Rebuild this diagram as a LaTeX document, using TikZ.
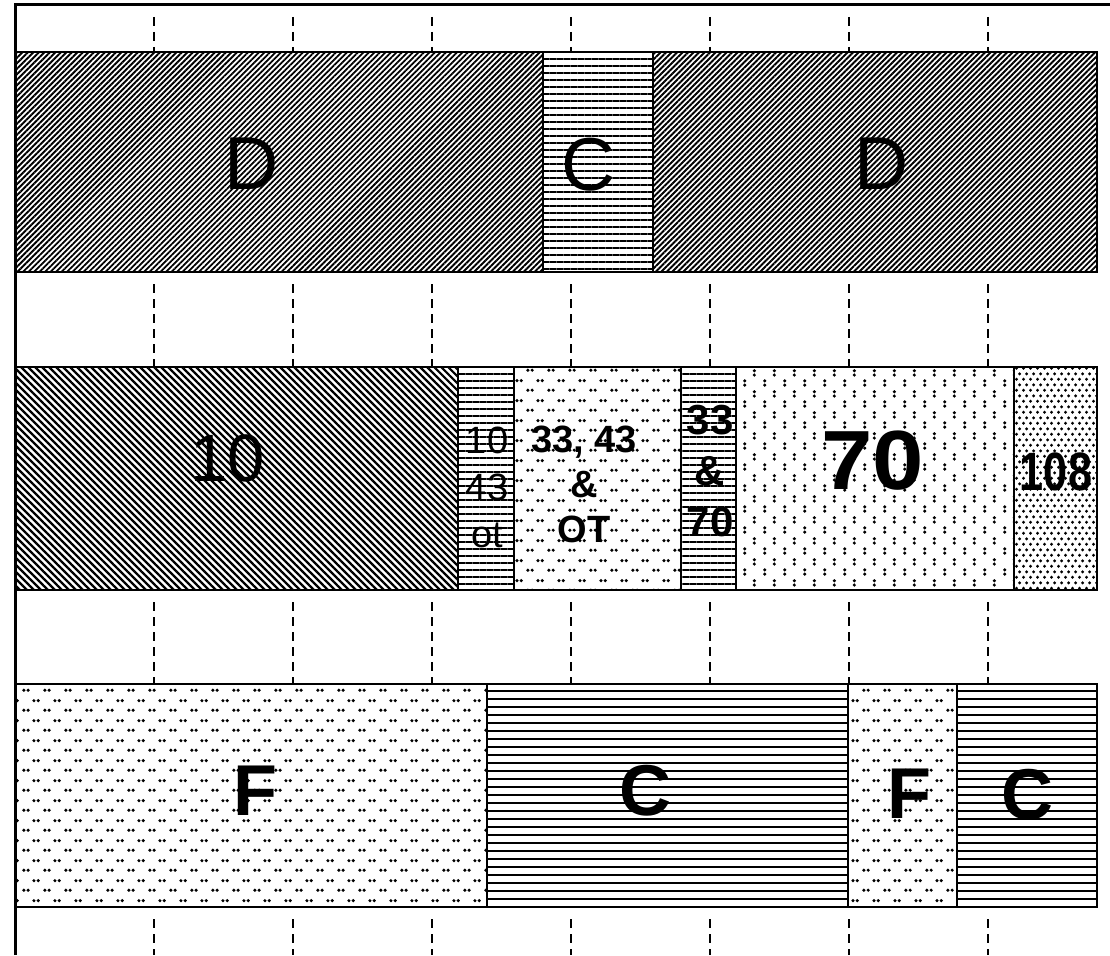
\documentclass[tikz,border=0pt]{standalone}
\usepackage{fontspec}
\setmainfont{Liberation Sans}
\usepackage{graphicx}
\usetikzlibrary{patterns,patterns.meta}

\pgfdeclarepatternformonly{pairdots}{\pgfqpoint{0pt}{0pt}}{\pgfqpoint{21pt}{20pt}}{\pgfqpoint{21pt}{20pt}}{%
  \pgfpathcircle{\pgfqpoint{3pt}{5pt}}{1.8pt}
  \pgfpathcircle{\pgfqpoint{7.5pt}{5pt}}{1.8pt}
  \pgfpathcircle{\pgfqpoint{13.5pt}{15pt}}{1.8pt}
  \pgfpathcircle{\pgfqpoint{18pt}{15pt}}{1.8pt}
  \pgfusepath{fill}}
\pgfdeclarepatternformonly{vpairdots}{\pgfqpoint{0pt}{0pt}}{\pgfqpoint{20pt}{21pt}}{\pgfqpoint{20pt}{21pt}}{%
  \pgfpathcircle{\pgfqpoint{5pt}{3pt}}{1.8pt}
  \pgfpathcircle{\pgfqpoint{5pt}{7.5pt}}{1.8pt}
  \pgfpathcircle{\pgfqpoint{15pt}{13.5pt}}{1.8pt}
  \pgfpathcircle{\pgfqpoint{15pt}{18pt}}{1.8pt}
  \pgfusepath{fill}}
\pgfdeclarepatternformonly{densedots}{\pgfqpoint{0pt}{0pt}}{\pgfqpoint{7pt}{11.4pt}}{\pgfqpoint{7pt}{11.4pt}}{%
  \pgfpathcircle{\pgfqpoint{1.75pt}{2.85pt}}{1.75pt}
  \pgfpathcircle{\pgfqpoint{5.25pt}{8.55pt}}{1.75pt}
  \pgfusepath{fill}}

\tikzset{
  cell/.style={line width=2.5pt},
  mark line/.style={line width=1.6pt, dash pattern=on 9pt off 6pt},
  lbl/.style={inner sep=0pt, align=center},
  hatchD/.style={pattern={Lines[angle=45,distance=3.89pt,line width=1.9pt]}},
  hatchT/.style={pattern={Lines[angle=-45,distance=4.95pt,line width=2.2pt]}},
  hlines/.style={pattern={Lines[angle=0,distance=7pt,line width=2pt]}},
  hlinesC/.style={pattern={Lines[angle=0,distance=8pt,line width=2.4pt]}},
}

\begin{document}
\begin{tikzpicture}[x=1pt,y=-1pt]
  \useasboundingbox (0,0) rectangle (1110,955);
  % frame
  \draw[line width=3pt] (15,955) -- (15,5) -- (1110,5);
  % dashed marks between the rows
  \foreach \x in {154,293,432,571,710,849,988}
    \foreach \a/\b in {5/52,272/367,590/684,907/955}
      \draw[mark line] (\x,\a+12) -- (\x,\b);
  % row 1
  \draw[cell, hatchD] (15,52) rectangle (543,272);
  \draw[cell, hlines] (543,52) rectangle (653,272);
  \draw[cell, hatchD] (653,52) rectangle (1097,272);
  \node[lbl, font=\fontsize{75}{75}\selectfont] (dleft) at (252,164) {D};
  \node[lbl, font=\fontsize{75}{75}\selectfont] (cmid) at (589,165) {C};
  \node[lbl, font=\fontsize{75}{75}\selectfont] (dright) at (882,164) {D};
  % row 2
  \draw[cell, hatchT] (15,367) rectangle (458,590);
  \draw[cell, hlines] (458,367) rectangle (514,590);
  \draw[cell, pattern=pairdots] (514,367) rectangle (681,590);
  \draw[cell, hlines] (681,367) rectangle (736,590);
  \draw[cell, pattern=vpairdots] (736,367) rectangle (1014,590);
  \draw[cell, pattern=densedots] (1014,367) rectangle (1097,590);
  \node[lbl, font=\fontsize{67}{67}\selectfont] (ten) at (228,458) {10};
  \node[lbl, font=\fontsize{38}{47}\selectfont] (tenot) at (487,487) {10\\43\\ot};
  \node[lbl, font=\bfseries\fontsize{38}{45}\selectfont] (ttot) at (584,484) {33, 43\\\&\\OT};
  \node[lbl, font=\bfseries\fontsize{42}{51}\selectfont] (ttsv) at (710,471) {33\\\&\\70};
  \node[lbl, font=\bfseries\fontsize{84}{84}\selectfont] (seventy) at (873,461) {\scalebox{1.1}[1]{70}};
  \node[lbl, font=\bfseries\fontsize{54}{54}\selectfont] (hundred) at (1056,472) {\scalebox{0.8}[1]{108}};
  % row 3
  \draw[cell, pattern=pairdots] (15,684) rectangle (487,907);
  \draw[cell, hlinesC] (487,684) rectangle (848,907);
  \draw[cell, pattern=pairdots] (848,684) rectangle (957,907);
  \draw[cell, hlinesC] (957,684) rectangle (1097,907);
  \node[lbl, font=\bfseries\fontsize{72}{72}\selectfont] (fleft) at (255,791) {F};
  \node[lbl, font=\bfseries\fontsize{72}{72}\selectfont] (cleft) at (645,791) {C};
  \node[lbl, font=\bfseries\fontsize{72}{72}\selectfont] (fright) at (909,794) {F};
  \node[lbl, font=\bfseries\fontsize{72}{72}\selectfont] (cright) at (1027,795) {C};
\end{tikzpicture}
\end{document}
